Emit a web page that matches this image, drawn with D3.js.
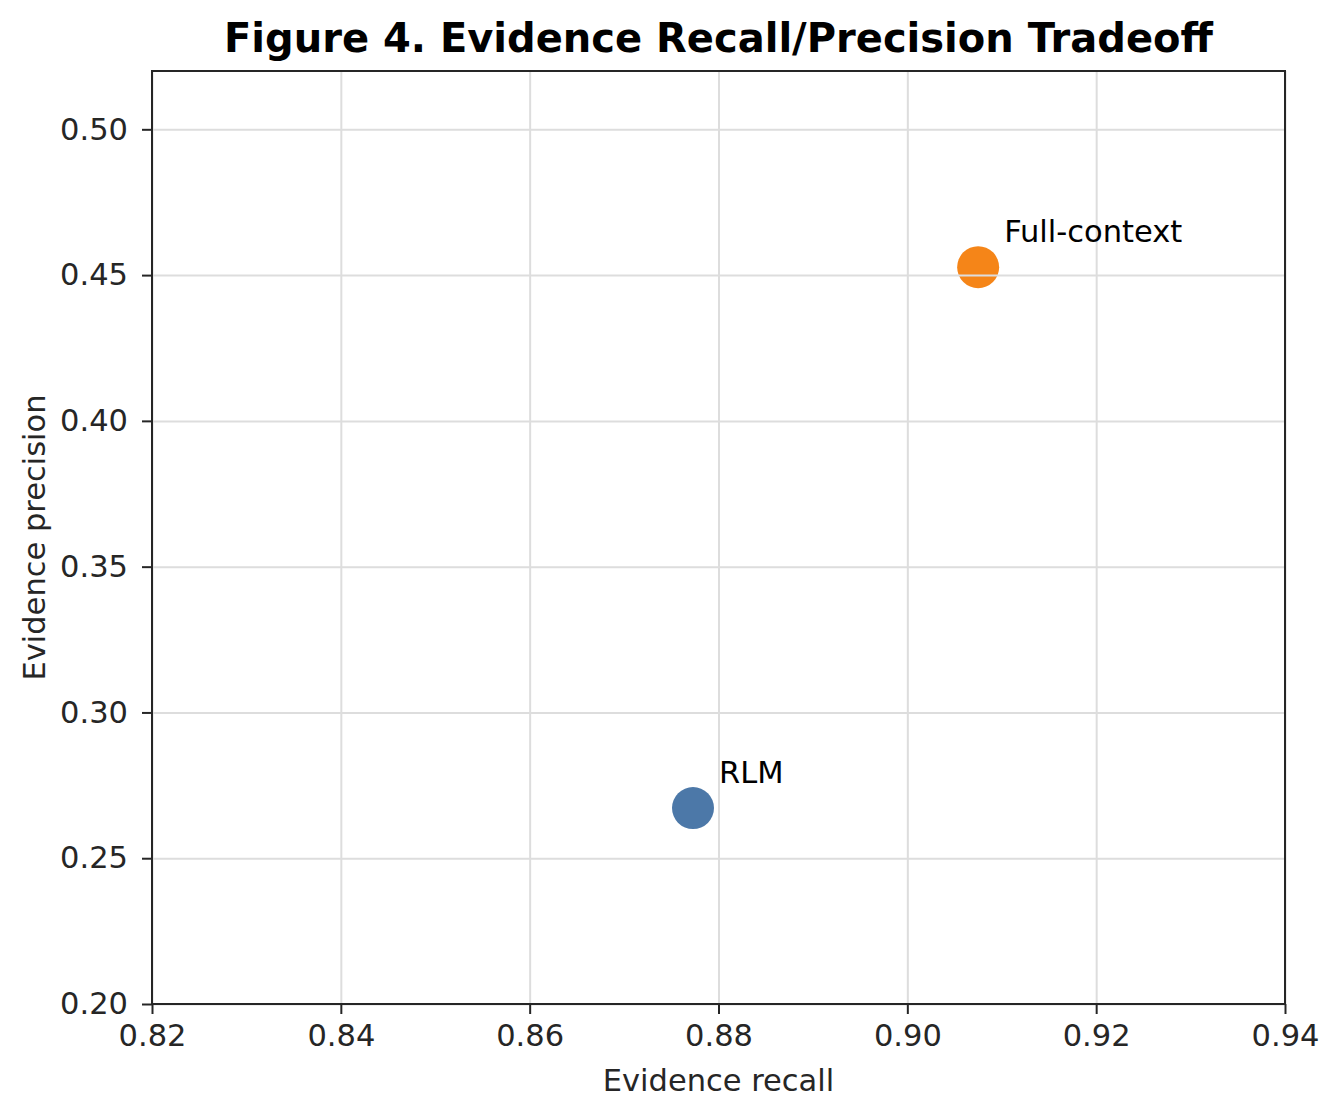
<!doctype html>
<html lang="en">
<head>
<meta charset="utf-8">
<title>Figure 4. Evidence Recall/Precision Tradeoff</title>
<script src="https://cdn.jsdelivr.net/npm/d3@7"></script>
<style>
    body { margin: 0; background: #fff; }
    svg text { font-family: "DejaVu Sans", sans-serif; }
    .grid line { stroke: #dddddd; stroke-width: 2px; }
    .grid .domain { display: none; }
    .axis text { fill: #262626; font-size: 30.5px; }
    .axis line { stroke: #262626; stroke-width: 2px; }
    .axis .domain { display: none; }
</style>
</head>
<body>
<svg width="1340" height="1118"></svg>
<script>
    // data
    var methods = ["RLM", "Full-context"];
    var recall = [0.8773, 0.9075];
    var precision = [0.2672, 0.4527];
    var colors = ["#4c78a8", "#f58518"];

    var xTicks = [0.82, 0.84, 0.86, 0.88, 0.90, 0.92, 0.94];
    var yTicks = [0.20, 0.25, 0.30, 0.35, 0.40, 0.45, 0.50];

    var margin = {left: 152, top: 71, right: 55, bottom: 114};
    var svg = d3.select("svg");
    var width = 1340 - margin.left - margin.right;
    var height = 1118 - margin.top - margin.bottom;

    var g = svg.append("g")
        .attr("transform", "translate(" + margin.left + "," + margin.top + ")");

    var x = d3.scaleLinear().domain([0.82, 0.94]).range([0, width]);
    var y = d3.scaleLinear().domain([0.20, 0.52]).range([height, 0]);

    var points = methods.map(function(m, i) {
        return {name: m, x: recall[i], y: precision[i], color: colors[i]};
    });

    // points first, grid drawn over them like the original
    g.append("g").selectAll("circle")
        .data(points)
        .enter().append("circle")
        .attr("cx", function(d) { return x(d.x); })
        .attr("cy", function(d) { return y(d.y); })
        .attr("r", 21)
        .attr("fill", function(d) { return d.color; });

    g.append("g")
        .attr("class", "grid")
        .attr("transform", "translate(0," + height + ")")
        .call(d3.axisBottom(x).tickValues(xTicks).tickSize(-height).tickFormat(""));

    g.append("g")
        .attr("class", "grid")
        .call(d3.axisLeft(y).tickValues(yTicks).tickSize(-width).tickFormat(""));

    g.append("g")
        .attr("class", "axis")
        .attr("transform", "translate(0," + height + ")")
        .call(d3.axisBottom(x).tickValues(xTicks).tickSize(10).tickPadding(10).tickFormat(d3.format(".2f")));

    g.append("g")
        .attr("class", "axis")
        .call(d3.axisLeft(y).tickValues(yTicks).tickSize(10).tickPadding(14).tickFormat(d3.format(".2f")));

    // frame
    g.append("rect")
        .attr("width", width)
        .attr("height", height)
        .attr("fill", "none")
        .attr("stroke", "#262626")
        .attr("stroke-width", 2);

    // point labels
    g.append("g").selectAll("text")
        .data(points)
        .enter().append("text")
        .attr("x", function(d) { return x(d.x) + 26; })
        .attr("y", function(d) { return y(d.y) - 25; })
        .attr("font-size", "30.5px")
        .attr("fill", "#000")
        .text(function(d) { return d.name; });

    svg.append("text")
        .attr("x", margin.left + width / 2)
        .attr("y", 52)
        .attr("text-anchor", "middle")
        .attr("font-size", "40px")
        .attr("font-weight", "bold")
        .attr("fill", "#000")
        .text("Figure 4. Evidence Recall/Precision Tradeoff");

    svg.append("text")
        .attr("x", margin.left + width / 2)
        .attr("y", 1091)
        .attr("text-anchor", "middle")
        .attr("font-size", "30.5px")
        .attr("fill", "#262626")
        .text("Evidence recall");

    svg.append("text")
        .attr("transform", "translate(45," + (margin.top + height / 2) + ") rotate(-90)")
        .attr("text-anchor", "middle")
        .attr("font-size", "30.5px")
        .attr("fill", "#262626")
        .text("Evidence precision");
</script>
</body>
</html>
